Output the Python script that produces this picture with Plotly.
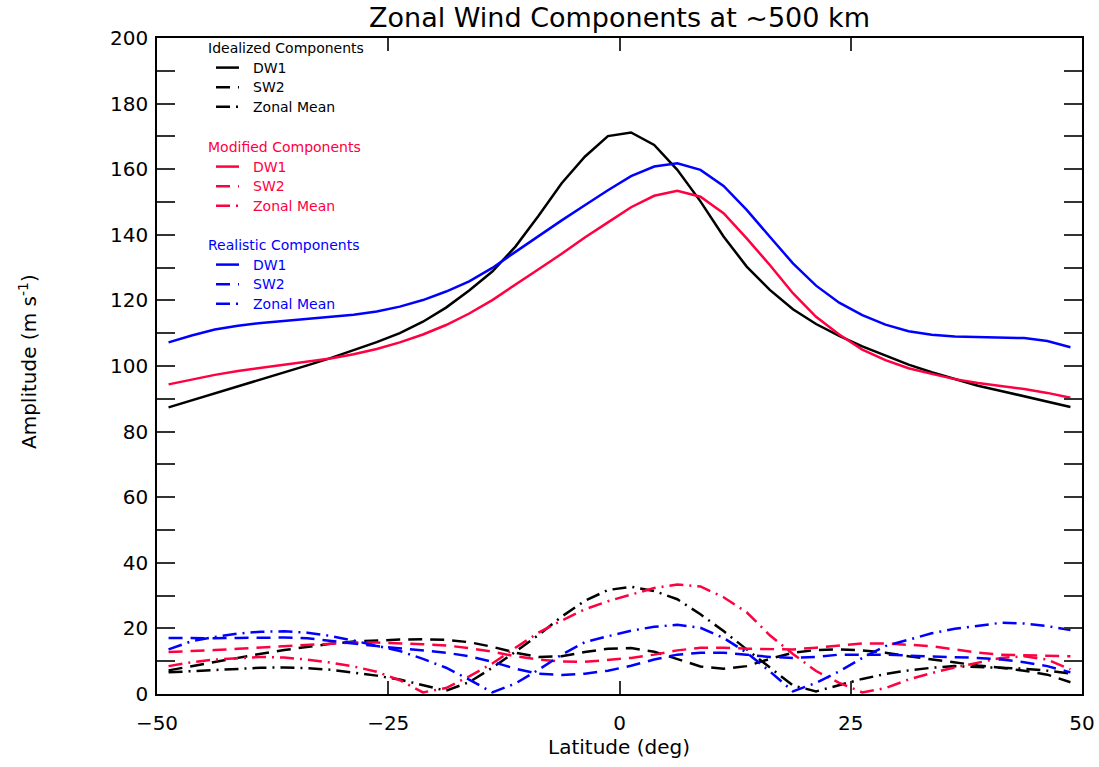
import plotly.graph_objects as go

# ---------------- data ----------------
lat = [-48.75, -46.25, -43.75, -41.25, -38.75, -36.25, -33.75, -31.25, -28.75, -26.25,
       -23.75, -21.25, -18.75, -16.25, -13.75, -11.25, -8.75, -6.25, -3.75, -1.25,
       1.25, 3.75, 6.25, 8.75, 11.25, 13.75, 16.25, 18.75, 21.25, 23.75,
       26.25, 28.75, 31.25, 33.75, 36.25, 38.75, 41.25, 43.75, 46.25, 48.75]

dw1_ideal = [87.4, 89.5, 91.6, 93.7, 95.8, 98.0, 100.2, 102.4, 104.8, 107.3,
             110.0, 113.5, 117.8, 123.0, 128.8, 136.4, 145.8, 155.7, 163.8, 170.1,
             171.2, 167.4, 159.8, 150.2, 139.5, 130.3, 123.2, 117.3, 112.8, 109.2,
             106.0, 103.1, 100.4, 98.1, 96.0, 94.0, 92.4, 90.8, 89.2, 87.5]
sw2_ideal = [7.2, 8.5, 9.9, 11.2, 12.3, 13.4, 14.4, 15.3, 16.0, 16.4,
             16.6, 16.7, 16.5, 15.8, 14.4, 12.6, 11.3, 11.5, 12.8, 13.8,
             14.0, 12.9, 10.7, 8.4, 7.7, 8.5, 10.7, 12.6, 13.4, 13.6,
             13.3, 12.6, 11.5, 10.5, 9.5, 8.7, 8.0, 7.1, 5.9, 3.6]
zm_ideal = [6.6, 7.0, 7.4, 7.8, 8.0, 8.1, 7.9, 7.4, 6.6, 5.6,
            4.4, 2.8, 1.0, 3.6, 8.0, 12.9, 18.0, 23.6, 28.4, 31.7,
            32.7, 31.4, 28.9, 24.3, 19.2, 13.6, 8.0, 2.6, 0.8, 2.6,
            4.6, 6.1, 7.2, 8.0, 8.5, 8.2, 8.0, 7.7, 7.1, 6.2]

dw1_mod = [94.4, 95.9, 97.3, 98.5, 99.5, 100.4, 101.3, 102.3, 103.6, 105.2,
           107.2, 109.6, 112.5, 116.0, 120.1, 124.7, 129.5, 134.2, 139.2, 143.8,
           148.4, 151.9, 153.4, 151.6, 146.6, 138.9, 130.8, 122.2, 115.0, 109.6,
           105.0, 101.8, 99.3, 97.6, 96.0, 94.8, 94.0, 93.0, 91.8, 90.3]
sw2_mod = [12.8, 13.0, 13.4, 13.8, 14.2, 14.6, 15.0, 15.4, 15.7, 15.7,
           15.5, 15.2, 14.8, 14.0, 12.9, 11.5, 10.5, 9.9, 9.8, 10.3,
           11.0, 12.0, 13.3, 14.1, 14.1, 13.8, 13.6, 13.6, 14.1, 14.8,
           15.4, 15.4, 15.1, 14.6, 13.6, 12.6, 12.0, 11.8, 11.7, 11.5]
zm_mod = [8.5, 9.7, 10.5, 11.0, 11.3, 11.1, 10.5, 9.6, 8.4, 6.8,
          4.2, 0.5, 1.8, 5.4, 9.3, 14.1, 18.7, 22.4, 25.8, 28.3,
          30.3, 32.3, 33.4, 32.8, 29.5, 24.9, 17.9, 12.2, 7.0, 3.4,
          0.5, 1.8, 4.4, 6.4, 8.1, 9.5, 11.0, 11.5, 10.5, 7.5]

dw1_real = [107.2, 109.3, 111.1, 112.3, 113.1, 113.7, 114.3, 114.9, 115.6, 116.6,
            118.1, 120.1, 122.7, 125.8, 129.9, 134.8, 139.7, 144.4, 149.0, 153.6,
            157.9, 160.8, 161.8, 159.8, 154.9, 147.6, 139.4, 131.3, 124.5, 119.3,
            115.5, 112.6, 110.6, 109.5, 109.0, 108.9, 108.8, 108.5, 107.6, 105.7]
sw2_real = [17.1, 17.0, 17.0, 17.1, 17.2, 17.2, 17.0, 16.1, 15.4, 14.6,
            13.9, 13.3, 12.6, 11.5, 9.8, 7.7, 6.2, 5.8, 6.2, 7.1,
            8.6, 10.5, 12.0, 12.6, 12.6, 12.0, 11.3, 11.0, 11.3, 12.0,
            12.0, 12.0, 11.7, 11.5, 11.3, 11.0, 10.5, 9.7, 8.5, 6.6]
zm_real = [13.6, 16.1, 17.4, 18.4, 19.0, 19.1, 18.7, 17.7, 16.3, 14.8,
           13.1, 10.7, 8.0, 4.4, 0.5, 3.2, 7.4, 12.0, 15.8, 17.6,
           19.3, 20.5, 21.1, 20.2, 17.1, 12.6, 6.9, 0.8, 3.4, 6.9,
           11.0, 14.6, 16.6, 18.5, 19.9, 20.9, 21.7, 21.5, 20.7, 19.5]

group_names = ["Idealized Components", "Modified Components", "Realistic Components"]
item_names = ["DW1", "SW2", "Zonal Mean"]
group_colors = ["#000000", "#ff0040", "#0000ff"]

x_ticks = [-50, -25, 0, 25, 50]
y_major_step = 20
y_minor_step = 10

# ---------------- figure ----------------
W, H = 1099, 767
L, R, T, B = 157, 1082, 38, 694
FONT = "DejaVu Sans"
dashes = ["solid", "14px,8px", "14px,6px,2px,6px"]

series = [[dw1_ideal, sw2_ideal, zm_ideal],
          [dw1_mod, sw2_mod, zm_mod],
          [dw1_real, sw2_real, zm_real]]

fig = go.Figure()
for g, grp in enumerate(series):
    for k, vals in enumerate(grp):
        fig.add_trace(go.Scatter(
            x=lat, y=vals, mode="lines",
            name=f"{group_names[g]} {item_names[k]}",
            line=dict(color=group_colors[g], width=2.5, dash=dashes[k]),
            showlegend=False, hoverinfo="skip"))

def px2x(px):
    return (px - L) / (R - L)

def py2y(py):
    return (B - py) / (B - T)

annotations = []
shapes = []
header_py = [48, 147, 245]
for g in range(3):
    annotations.append(dict(
        x=px2x(206), y=py2y(header_py[g]), xref="paper", yref="paper",
        xanchor="left", yanchor="middle", showarrow=False,
        text=group_names[g], font=dict(family=FONT, size=14, color=group_colors[g])))
    for k in range(3):
        py = header_py[g] + 19.6 * (k + 1)
        shapes.append(dict(
            type="line", xref="paper", yref="paper",
            x0=px2x(216), x1=px2x(239), y0=py2y(py), y1=py2y(py),
            line=dict(color=group_colors[g], width=2.5, dash=dashes[k])))
        annotations.append(dict(
            x=px2x(251), y=py2y(py), xref="paper", yref="paper",
            xanchor="left", yanchor="middle", showarrow=False,
            text=item_names[k], font=dict(family=FONT, size=14, color=group_colors[g])))

# axis titles
annotations.append(dict(
    x=px2x(619), y=py2y(747), xref="paper", yref="paper", xanchor="center", yanchor="middle",
    showarrow=False, text="Latitude (deg)", font=dict(family=FONT, size=20, color="black")))
annotations.append(dict(
    x=px2x(28), y=py2y(362), xref="paper", yref="paper", xanchor="center", yanchor="middle",
    showarrow=False, textangle=-90, text="Amplitude (m s<sup>-1</sup>)",
    font=dict(family=FONT, size=20, color="black")))
# title
annotations.append(dict(
    x=px2x(619), y=py2y(18), xref="paper", yref="paper", xanchor="center", yanchor="middle",
    showarrow=False, text="Zonal Wind Components at ~500 km",
    font=dict(family=FONT, size=27, color="black")))

fig.update_layout(
    width=W, height=H,
    margin=dict(l=L, r=W - R, t=T, b=H - B, autoexpand=False),
    paper_bgcolor="white", plot_bgcolor="white",
    font=dict(family=FONT, size=20, color="black"),
    annotations=annotations, shapes=shapes,
    xaxis=dict(range=[-50, 50], tickvals=x_ticks, ticks="inside", ticklen=13,
               tickwidth=1.5, tickcolor="#333333", showgrid=False, zeroline=False,
               showline=True, linecolor="black", linewidth=1.5, mirror="ticks",
               ticklabelstandoff=10,
               tickfont=dict(family=FONT, size=20, color="black")),
    yaxis=dict(range=[0, 200], tick0=0, dtick=y_major_step, ticks="inside",
               ticklen=18, tickwidth=1.5, tickcolor="#333333", showgrid=False,
               zeroline=False, showline=True, linecolor="black", linewidth=1.5,
               mirror="ticks", ticklabelstandoff=3,
               minor=dict(tick0=0, dtick=y_minor_step, ticks="inside", ticklen=18,
                          tickwidth=1.5, tickcolor="#333333", showgrid=False),
               tickfont=dict(family=FONT, size=20, color="black")),
)

fig.write_html("out.html", config={"displayModeBar": False},
               post_script="document.body.style.margin='0';document.body.style.overflow='hidden';")
